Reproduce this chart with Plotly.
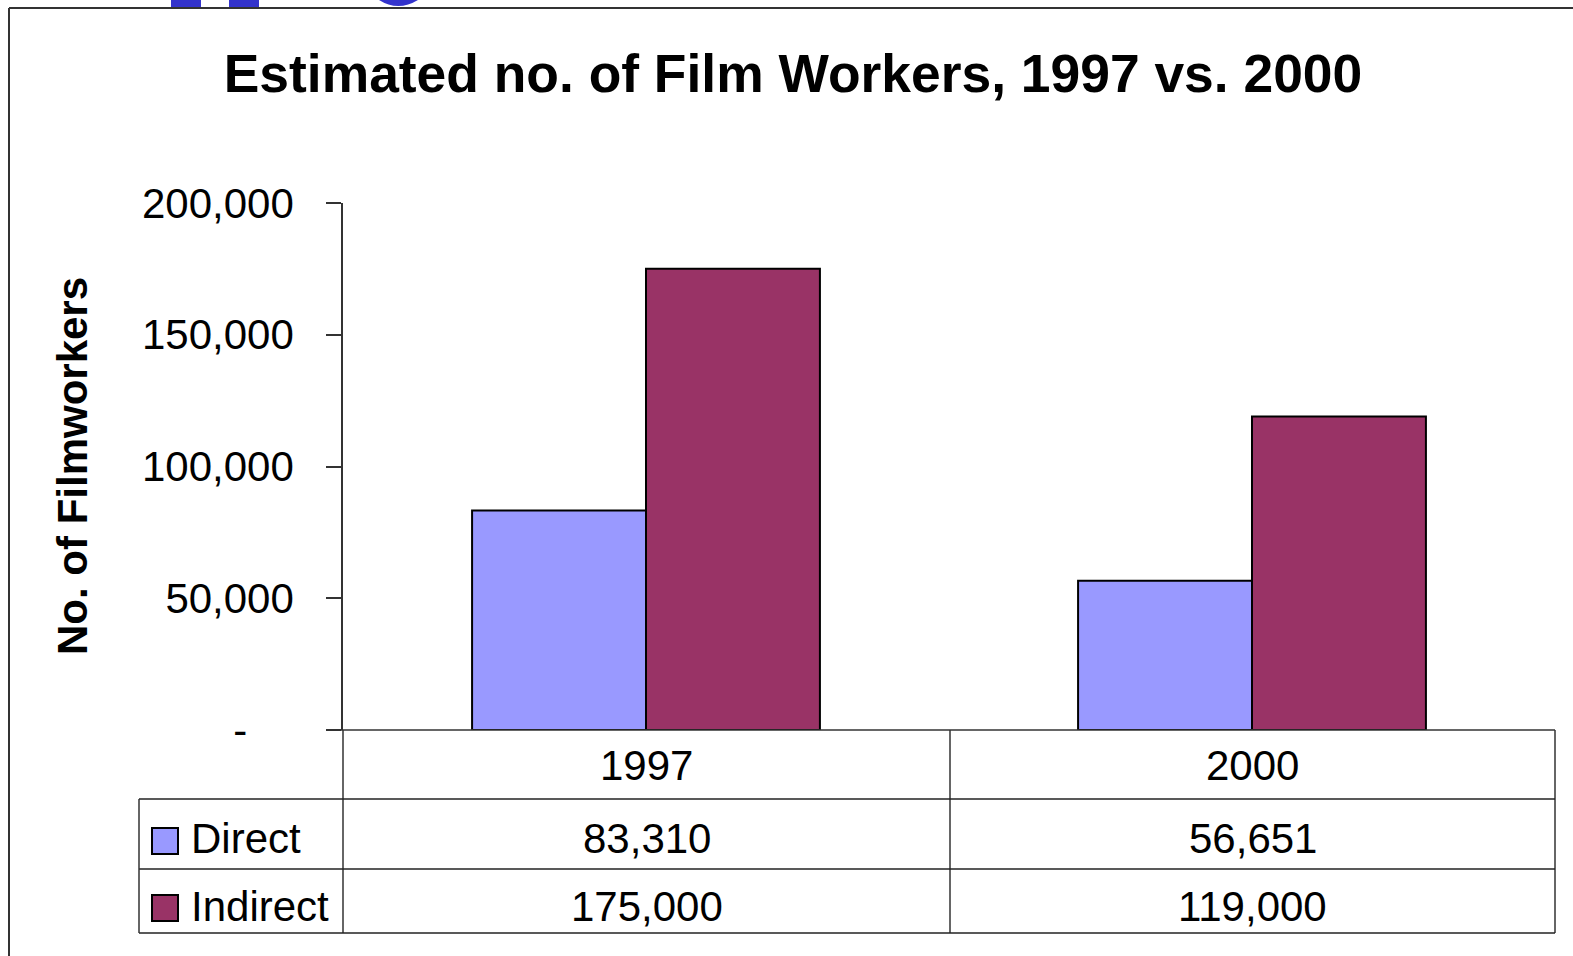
import plotly.graph_objects as go

# data
years = ["1997", "2000"]
series_names = ["Direct", "Indirect"]
direct = [83310, 56651]
indirect = [175000, 119000]
series_values = [direct, indirect]
series_colors = ["#9999FF", "#993366"]
tick_vals = [0, 50000, 100000, 150000, 200000]
tick_text = ["-\u00a0\u00a0\u00a0\u00a0", "50,000", "100,000", "150,000", "200,000"]

FONT = "Liberation Sans, Arial, sans-serif"
W, H = 1573, 956
# plot area in pixels
X0, X1 = 343, 1555
Y0, Y1 = 730, 203  # y of 0 and of 200,000


def px(x):
    return (x - X0) / (X1 - X0)


def py(y):
    return (Y0 - y) / (Y0 - Y1)


fig = go.Figure()
for name, vals, col in zip(series_names, series_values, series_colors):
    fig.add_trace(go.Bar(
        x=years, y=vals, name=name,
        marker=dict(color=col, line=dict(color="#000000", width=2)),
        showlegend=False,
    ))

shapes = []


def line(x0, y0, x1, y1, color="#000000", width=1.5):
    shapes.append(dict(type="line", xref="paper", yref="paper",
                       x0=px(x0), y0=py(y0), x1=px(x1), y1=py(y1),
                       line=dict(color=color, width=width)))


# outer frame
line(9, 8, 1580, 8, "#333333", 2)
line(9, 8, 9, 960, "#333333", 2)

# data table grid
row_top, row1, row2, row_bot = 730, 799, 869, 933
col_left, col_mid = 139, 950
line(328, row_top, X1, row_top, "#333333", 1.5)
for x in (X0, col_mid, X1):
    line(x, row_top, x, row_bot, "#333333", 1.5)
for y in (row1, row2, row_bot):
    line(col_left, y, X1, y, "#222222", 1.5)
line(col_left, row1, col_left, row_bot, "#333333", 1.5)

# legend keys in the table
key_rows = [(828, 854), (895, 921)]
for (ya, yb), col in zip(key_rows, series_colors):
    shapes.append(dict(type="rect", xref="paper", yref="paper",
                       x0=px(152), x1=px(178), y0=py(yb), y1=py(ya),
                       fillcolor=col, line=dict(color="#000000", width=2)))

# cut-off blue heading from the slide above
blue = "#3333CC"
for xa, xb in ((171, 201), (229, 259)):
    shapes.append(dict(type="rect", xref="paper", yref="paper",
                       x0=px(xa), x1=px(xb), y0=py(7), y1=py(-5),
                       fillcolor=blue, line=dict(width=0)))
shapes.append(dict(type="path", xref="paper", yref="paper",
                   path=f"M {px(379)},{py(0)} Q {px(398)},{py(12)} {px(418)},{py(0)} Z",
                   fillcolor=blue, line=dict(width=0)))

annotations = []
cell_centers = [(X0 + col_mid) / 2, (col_mid + X1) / 2]
for xc, yr in zip(cell_centers, years):
    annotations.append(dict(text=yr, x=px(xc), y=py(765), xref="paper", yref="paper",
                            showarrow=False, xanchor="center", yanchor="middle",
                            font=dict(family=FONT, size=42, color="#000000")))
row_mids = [838, 906]
for name, vals, ym in zip(series_names, series_values, row_mids):
    annotations.append(dict(text=name, x=px(189), y=py(ym), xref="paper", yref="paper",
                            showarrow=False, xanchor="left", yanchor="middle",
                            font=dict(family=FONT, size=42, color="#000000")))
    for xc, v in zip(cell_centers, vals):
        annotations.append(dict(text=f"{v:,}", x=px(xc), y=py(ym), xref="paper", yref="paper",
                                showarrow=False, xanchor="center", yanchor="middle",
                                font=dict(family=FONT, size=42, color="#000000")))

# y axis title
annotations.append(dict(text="<b>No. of Filmworkers</b>", x=px(72), y=py(466),
                        xref="paper", yref="paper", showarrow=False, textangle=-90,
                        xanchor="center", yanchor="middle",
                        font=dict(family=FONT, size=42, color="#000000")))

fig.update_layout(
    width=W, height=H,
    margin=dict(l=X0, r=W - X1, t=Y1, b=H - Y0, pad=0),
    paper_bgcolor="#FFFFFF", plot_bgcolor="#FFFFFF",
    barmode="group", bargap=0.426, bargroupgap=0,
    title=dict(text="<b>Estimated no. of Film Workers, 1997 vs. 2000</b>",
               x=793 / W, y=1 - 73 / H, xref="container", yref="container",
               xanchor="center", yanchor="middle",
               font=dict(family=FONT, size=53.4, color="#000000")),
    xaxis=dict(range=[-0.5, 1.5], showticklabels=False, showgrid=False,
               zeroline=False, showline=False, ticks=""),
    yaxis=dict(range=[0, 200000], tickvals=tick_vals, ticktext=tick_text,
               showgrid=False, zeroline=False, showline=True,
               linecolor="#333333", linewidth=1.5,
               ticks="outside", ticklen=15, tickcolor="#333333", tickwidth=1.5,
               ticklabelstandoff=24,
               tickfont=dict(family=FONT, size=42, color="#000000")),
    shapes=shapes,
    annotations=annotations,
)

fig.write_html("out.html", config={"displayModeBar": False},
               post_script="document.body.style.margin='0';document.body.style.overflow='hidden';")
